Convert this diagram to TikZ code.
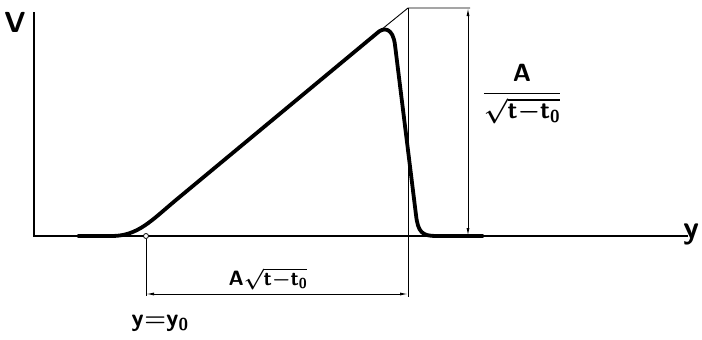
\documentclass[tikz,border=0pt]{standalone}
\usetikzlibrary{arrows.meta}
\tikzset{
  axisline/.style={line width=1.3pt},
  thinline/.style={line width=0.9pt},
  dimline/.style={line width=0.9pt, {Latex[length=8pt,width=3pt]}-{Latex[length=8pt,width=3pt]}},
  pulse/.style={line width=3.8pt, line cap=round, line join=round},
  lbl/.style={font=\sffamily\bfseries\boldmath, inner sep=0pt}
}
\begin{document}
\begin{tikzpicture}[x=1pt, y=-1pt]
    \useasboundingbox (0,0) rectangle (702,340);

    % Assi
    \coordinate (O) at (34,236);
    \coordinate (vtop) at (34,12);
    \coordinate (yend) at (688,236);
    \draw[axisline] (vtop) -- (O) -- (yend);
    \node[lbl, font=\sffamily\bfseries\fontsize{29}{30}\selectfont] (vlab) at (15,22) {V};
    \node[lbl, font=\sffamily\bfseries\fontsize{32}{34}\selectfont, anchor=west] (ylab) at (683,234) {y};

    % Linee di riferimento
    \coordinate (top) at (408,8);
    \coordinate (topr) at (470,8);
    \coordinate (drop) at (408,297);
    \coordinate (tang) at (376,34);
    \draw[thinline] (tang) -- (top) -- (topr);
    \draw[thinline] (top) -- (drop);

    % Impulso
    \draw[pulse] (78,236) -- (112,236)
        .. controls (138,236) and (152,220) .. (176,200)
        -- (tang)
        .. controls (384,26) and (393,28) .. (395,45)
        -- (416,215)
        .. controls (418,232) and (422,236) .. (436,236)
        -- (483,236);

    % Punto iniziale y = y0
    \node[circle, draw, fill=white, line width=0.8pt, minimum size=5pt, inner sep=0pt] (y0) at (146,236) {};
    \coordinate (base) at (146,296);
    \draw[thinline] (y0) -- (base);

    % Quote
    \coordinate (wl) at (146,294);
    \coordinate (wr) at (408,294);
    \draw[dimline] (wl) -- (wr);
    \coordinate (htop) at (468,8);
    \coordinate (hbot) at (468,236);
    \draw[dimline] (htop) -- (hbot);

    % Etichette
    \node[lbl, font=\sffamily\bfseries\boldmath\fontsize{20}{22}\selectfont] (wlab) at (268,279) {$\mathsf{A}\sqrt{\mathsf{t}{-}\mathsf{t_0}}$};
    \node[lbl, font=\sffamily\bfseries\boldmath\fontsize{23}{25}\selectfont] (hlab) at (522,94) {$\displaystyle\frac{\mathsf{A}}{\sqrt{\mathsf{t}{-}\mathsf{t_0}}}$};
    \node[lbl, font=\sffamily\bfseries\boldmath\fontsize{25}{27}\selectfont] (y0lab) at (160,323) {$\mathsf{y}{=}\mathsf{y_0}$};
\end{tikzpicture}
\end{document}
